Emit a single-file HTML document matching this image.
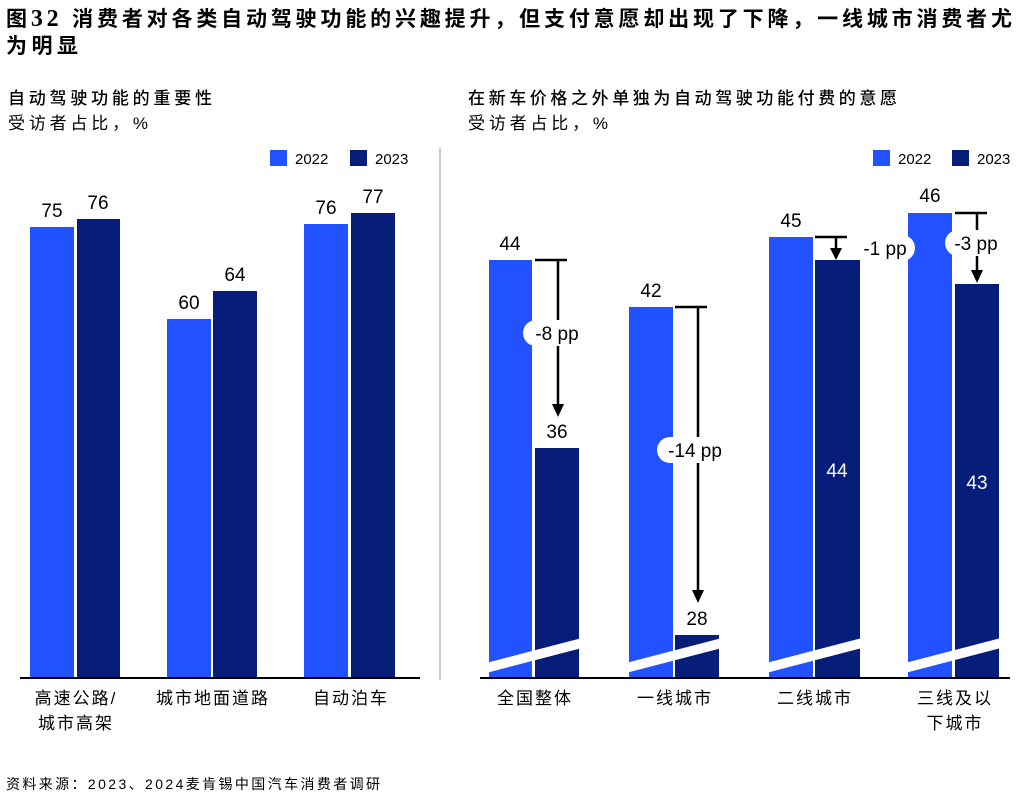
<!DOCTYPE html>
<html><head><meta charset="utf-8"><style>
body{margin:0;background:#fff;width:1027px;height:792px;overflow:hidden;font-family:"Liberation Sans","Noto Sans CJK SC",sans-serif}
</style></head><body>
<svg width="1027" height="792" xmlns="http://www.w3.org/2000/svg" font-family="Liberation Sans, Noto Sans CJK SC, sans-serif">
<text x="6" y="26" font-size="21" font-weight="bold" fill="#000" textLength="1006" lengthAdjust="spacing">图<tspan font-family="Liberation Serif, serif" font-size="24">32</tspan> 消费者对各类自动驾驶功能的兴趣提升，但支付意愿却出现了下降，一线城市消费者尤</text>
<text x="6" y="53" font-size="21" font-weight="bold" fill="#000" textLength="72" lengthAdjust="spacing">为明显</text>
<text x="8" y="104" font-size="17" font-weight="500" textLength="204" lengthAdjust="spacing">自动驾驶功能的重要性</text>
<text x="8" y="129" font-size="17" textLength="140" lengthAdjust="spacing">受访者占比，%</text>
<text x="468" y="104" font-size="17" font-weight="500" textLength="429" lengthAdjust="spacing">在新车价格之外单独为自动驾驶功能付费的意愿</text>
<text x="468" y="129" font-size="17" textLength="140" lengthAdjust="spacing">受访者占比，%</text>
<g font-size="15">
<rect x="270" y="150" width="17" height="16" fill="#2251ff"/><text x="295" y="164">2022</text>
<rect x="350" y="150" width="17" height="16" fill="#061e7a"/><text x="375" y="164">2023</text>
<rect x="873" y="150" width="17" height="16" fill="#2251ff"/><text x="898" y="164">2022</text>
<rect x="952" y="150" width="17" height="16" fill="#061e7a"/><text x="977" y="164">2023</text>
</g>
<line x1="440" y1="148" x2="440" y2="680" stroke="#bbb" stroke-width="1.5"/>
<g fill="#2251ff"><rect x="30" y="227" width="44" height="451"/><rect x="167" y="319" width="44" height="359"/><rect x="304" y="224" width="44" height="454"/></g>
<g fill="#061e7a"><rect x="77" y="219" width="43" height="459"/><rect x="213" y="291" width="44" height="387"/><rect x="351" y="213" width="44" height="465"/></g>
<g font-size="19" text-anchor="middle">
<text x="52" y="217">75</text><text x="98" y="209">76</text>
<text x="189" y="309">60</text><text x="235" y="281">64</text>
<text x="326" y="214">76</text><text x="373" y="203">77</text>
</g>
<line x1="20" y1="678" x2="420" y2="678" stroke="#000" stroke-width="2"/>
<g font-size="17" text-anchor="middle" letter-spacing="2">
<text x="76" y="704">高速公路/</text><text x="76" y="729">城市高架</text>
<text x="213" y="704">城市地面道路</text>
<text x="351" y="704">自动泊车</text>
</g>
<g fill="#2251ff"><rect x="489" y="260" width="43" height="418"/><rect x="629" y="307" width="44" height="371"/><rect x="769" y="237" width="44" height="441"/><rect x="908" y="213" width="44" height="465"/></g>
<g fill="#061e7a"><rect x="535" y="448" width="44" height="230"/><rect x="675" y="635" width="44" height="43"/><rect x="815" y="260" width="45" height="418"/><rect x="955" y="284" width="44" height="394"/></g>
<g fill="#fff">
<polygon points="486,663 582,638 582,648 486,673"/>
<polygon points="626,663 722,638 722,648 626,673"/>
<polygon points="766,663 862,638 862,648 766,673"/>
<polygon points="905,663 1001,638 1001,648 905,673"/>
</g>
<line x1="480" y1="678" x2="1010" y2="678" stroke="#000" stroke-width="2"/>
<g font-size="19" text-anchor="middle">
<text x="510" y="250">44</text><text x="557" y="438">36</text>
<text x="651" y="297">42</text><text x="697" y="625">28</text>
<text x="791" y="227">45</text><text x="837" y="477" fill="#fff">44</text>
<text x="930" y="202">46</text><text x="977" y="489" fill="#fff">43</text>
</g>
<g stroke="#000" stroke-width="2.5" fill="none">
<line x1="535" y1="260" x2="567" y2="260"/><line x1="558" y1="260" x2="558" y2="405"/>
<line x1="675" y1="307" x2="707" y2="307"/><line x1="698" y1="307" x2="698" y2="592"/>
<line x1="815" y1="237" x2="847" y2="237"/><line x1="836" y1="237" x2="836" y2="250"/>
<line x1="955" y1="213" x2="987" y2="213"/><line x1="977" y1="213" x2="977" y2="272"/>
</g>
<g fill="#000">
<polygon points="552,404 564,404 558,417"/>
<polygon points="692,590 704,590 698,603"/>
<polygon points="830,248 842,248 836,260"/>
<polygon points="971,270 983,270 977,283"/>
</g>
<g fill="#fff">
<rect x="523" y="320" width="66" height="26" rx="13"/>
<rect x="657" y="437" width="76" height="26" rx="13"/>
<rect x="855" y="235" width="60" height="26" rx="13"/>
<rect x="945" y="230" width="62" height="26" rx="13"/>
</g>
<g font-size="19" text-anchor="middle">
<text x="557" y="340">-8 pp</text>
<text x="695" y="457">-14 pp</text>
<text x="885" y="255">-1 pp</text>
<text x="976" y="250">-3 pp</text>
</g>
<g font-size="17" text-anchor="middle" letter-spacing="2">
<text x="535" y="704">全国整体</text>
<text x="675" y="704">一线城市</text>
<text x="815" y="704">二线城市</text>
<text x="955" y="704">三线及以</text><text x="955" y="729">下城市</text>
</g>
<text x="6" y="789" font-size="14" textLength="374" lengthAdjust="spacing">资料来源：2023、2024麦肯锡中国汽车消费者调研</text>
</svg>
</body></html>
